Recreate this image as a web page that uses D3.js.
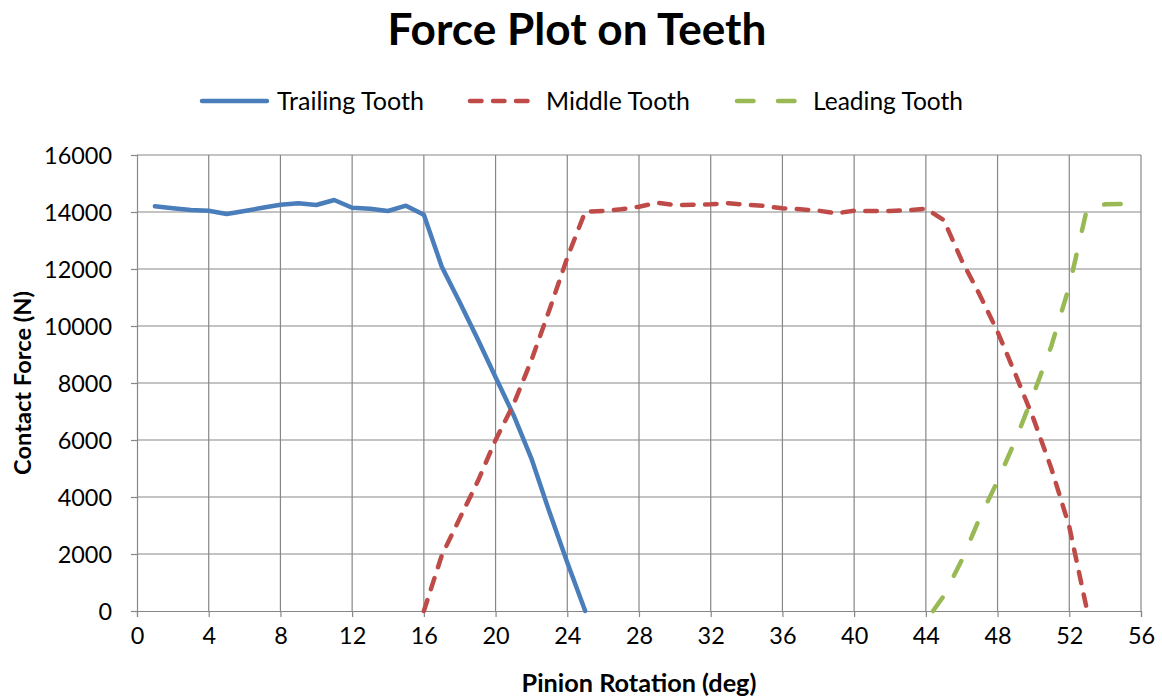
<!DOCTYPE html>
<html>
<head>
<meta charset="utf-8">
<script src="https://cdn.jsdelivr.net/npm/d3@7"></script>
<style>
  html, body { margin: 0; padding: 0; background: #fff; }
  svg { display: block; font-family: Lato, "Open Sans", sans-serif; }
</style>
</head>
<body>
<svg id="chart" width="1162" height="700"></svg>
<script>
// ---- data ----
const title = "Force Plot on Teeth";
const xTitle = "Pinion Rotation (deg)";
const yTitle = "Contact Force (N)";
const seriesNames = ["Trailing Tooth", "Middle Tooth", "Leading Tooth"];

const trailingX = [1,2,3,4,5,6,7,8,9,10,11,12,13,14,15,16,17,18,19,20,21,22,23,24,25];
const trailingY = [14200,14130,14070,14046,13930,14035,14150,14256,14305,14245,14420,14150,14116,14035,14222,13900,12080,10830,9540,8200,6880,5350,3480,1700,0];

const middleX = [16,17,18,19,20,21,22,23,24,25,26,27,28,29,30,31,32,33,34,35,36,37,38,39,40,41,42,43,44,45,46,47,48,49,50,51,52,53];
const middleY = [0,1950,3250,4540,6000,7250,8800,10560,12400,14010,14035,14094,14186,14327,14245,14257,14270,14305,14257,14210,14130,14094,14046,13955,14046,14035,14035,14060,14116,13720,12300,11100,9800,8300,6750,5000,2960,0];

const leadingX = [44.4,45,46,47,48,49,50,51,52,53,54,55,56];
const leadingY = [0,530,1780,3260,4560,6000,7600,9300,11400,14150,14270,14280,14250];

const xTickValues = [0,4,8,12,16,20,24,28,32,36,40,44,48,52,56];
const yTickValues = [0,2000,4000,6000,8000,10000,12000,14000,16000];

// ---- layout ----
const svg = d3.select("#chart");
const pLeft = 137, pRight = 1141, pTop = 155, pBottom = 611;
const x = d3.scaleLinear().domain([0, 56]).range([pLeft, pRight]);
const y = d3.scaleLinear().domain([0, 16000]).range([pBottom, pTop]);

const colors = ["#4A7EBB", "#BE4B48", "#98B954"];
const dashes = [null, "11.5,11.5", "16.5,24.5"];
const lw = 4.5;
const gridColor = "#878787";

function fit(sel, w) {
  const fs = parseFloat(sel.attr("font-size"));
  const l = sel.node().getComputedTextLength();
  sel.attr("font-size", fs * w / l);
}

// gridlines
svg.append("g").selectAll("line").data(xTickValues.filter(d => d > 0)).join("line")
  .attr("x1", d => x(d)).attr("x2", d => x(d)).attr("y1", pTop).attr("y2", pBottom)
  .attr("stroke", gridColor).attr("stroke-width", 1.2);
svg.append("g").selectAll("line").data(yTickValues.filter(d => d > 0)).join("line")
  .attr("x1", pLeft).attr("x2", pRight).attr("y1", d => y(d)).attr("y2", d => y(d))
  .attr("stroke", gridColor).attr("stroke-width", 1.2);

// axes
const xAxis = d3.axisBottom(x).tickValues(xTickValues).tickSize(6).tickPadding(10).tickFormat(d3.format("d"));
const yAxis = d3.axisLeft(y).tickValues(yTickValues).tickSize(6).tickPadding(19).tickFormat(d3.format("d"));

const gx = svg.append("g").attr("transform", `translate(0,${pBottom})`).call(xAxis);
const gy = svg.append("g").attr("transform", `translate(${pLeft},0)`).call(yAxis);
[gx, gy].forEach(g => {
  g.select(".domain").attr("stroke", gridColor).attr("stroke-width", 1.2);
  g.selectAll(".tick line").attr("stroke", gridColor).attr("stroke-width", 1.2);
  g.selectAll(".tick text").attr("fill", "#000").attr("font-family", "Lato, sans-serif").attr("font-size", 23);
});
gx.selectAll(".tick text").attr("dy", "0.71em");
gy.selectAll(".tick text").attr("dy", "0.35em");

// lines
const series = [
  trailingX.map((v, i) => [v, trailingY[i]]),
  middleX.map((v, i) => [v, middleY[i]]),
  leadingX.map((v, i) => [v, leadingY[i]])
];
const line = d3.line().x(d => x(d[0])).y(d => y(d[1]));
series.forEach((s, i) => {
  const p = svg.append("path").datum(s).attr("d", line)
    .attr("fill", "none").attr("stroke", colors[i]).attr("stroke-width", lw)
    .attr("stroke-linejoin", "round").attr("stroke-linecap", "round");
  if (dashes[i]) p.attr("stroke-dasharray", dashes[i]);
});

// title
const t = svg.append("text").attr("x", 577).attr("y", 45).attr("text-anchor", "middle")
  .attr("font-weight", "bold").attr("font-size", 40).attr("font-family", "Lato, sans-serif").text(title);
fit(t, 379);

// legend
const legendItems = [
  { x1: 202, x2: 267, tx: 277, tw: 147 },
  { x1: 470, x2: 531, tx: 546, tw: 144 },
  { x1: 737, x2: 800, tx: 813, tw: 150 }
];
legendItems.forEach((L, i) => {
  const l = svg.append("line").attr("x1", L.x1).attr("x2", L.x2).attr("y1", 101).attr("y2", 101)
    .attr("stroke", colors[i]).attr("stroke-width", lw).attr("stroke-linecap", "round");
  if (dashes[i]) l.attr("stroke-dasharray", dashes[i]);
  const tt = svg.append("text").attr("x", L.tx).attr("y", 101).attr("dy", "0.35em")
    .attr("font-size", 22).attr("font-family", "Lato, sans-serif").text(seriesNames[i]);
  fit(tt, L.tw);
});

// axis titles
const xt = svg.append("text").attr("x", 639).attr("y", 692).attr("text-anchor", "middle")
  .attr("font-weight", "bold").attr("font-size", 20).attr("font-family", "Lato, sans-serif").text(xTitle);
fit(xt, 235);
const yt = svg.append("text").attr("transform", "translate(31,383) rotate(-90)").attr("text-anchor", "middle")
  .attr("font-weight", "bold").attr("font-size", 20).attr("font-family", "Lato, sans-serif").text(yTitle);
fit(yt, 184);

// fit tick labels so "16000" is ~68px wide
const probe = gy.selectAll(".tick text").filter(d => d === 16000);
const pl = probe.node().getComputedTextLength();
const tfs = 23 * 68 / pl;
gx.selectAll(".tick text").attr("font-size", tfs);
gy.selectAll(".tick text").attr("font-size", tfs);
</script>
</body>
</html>
